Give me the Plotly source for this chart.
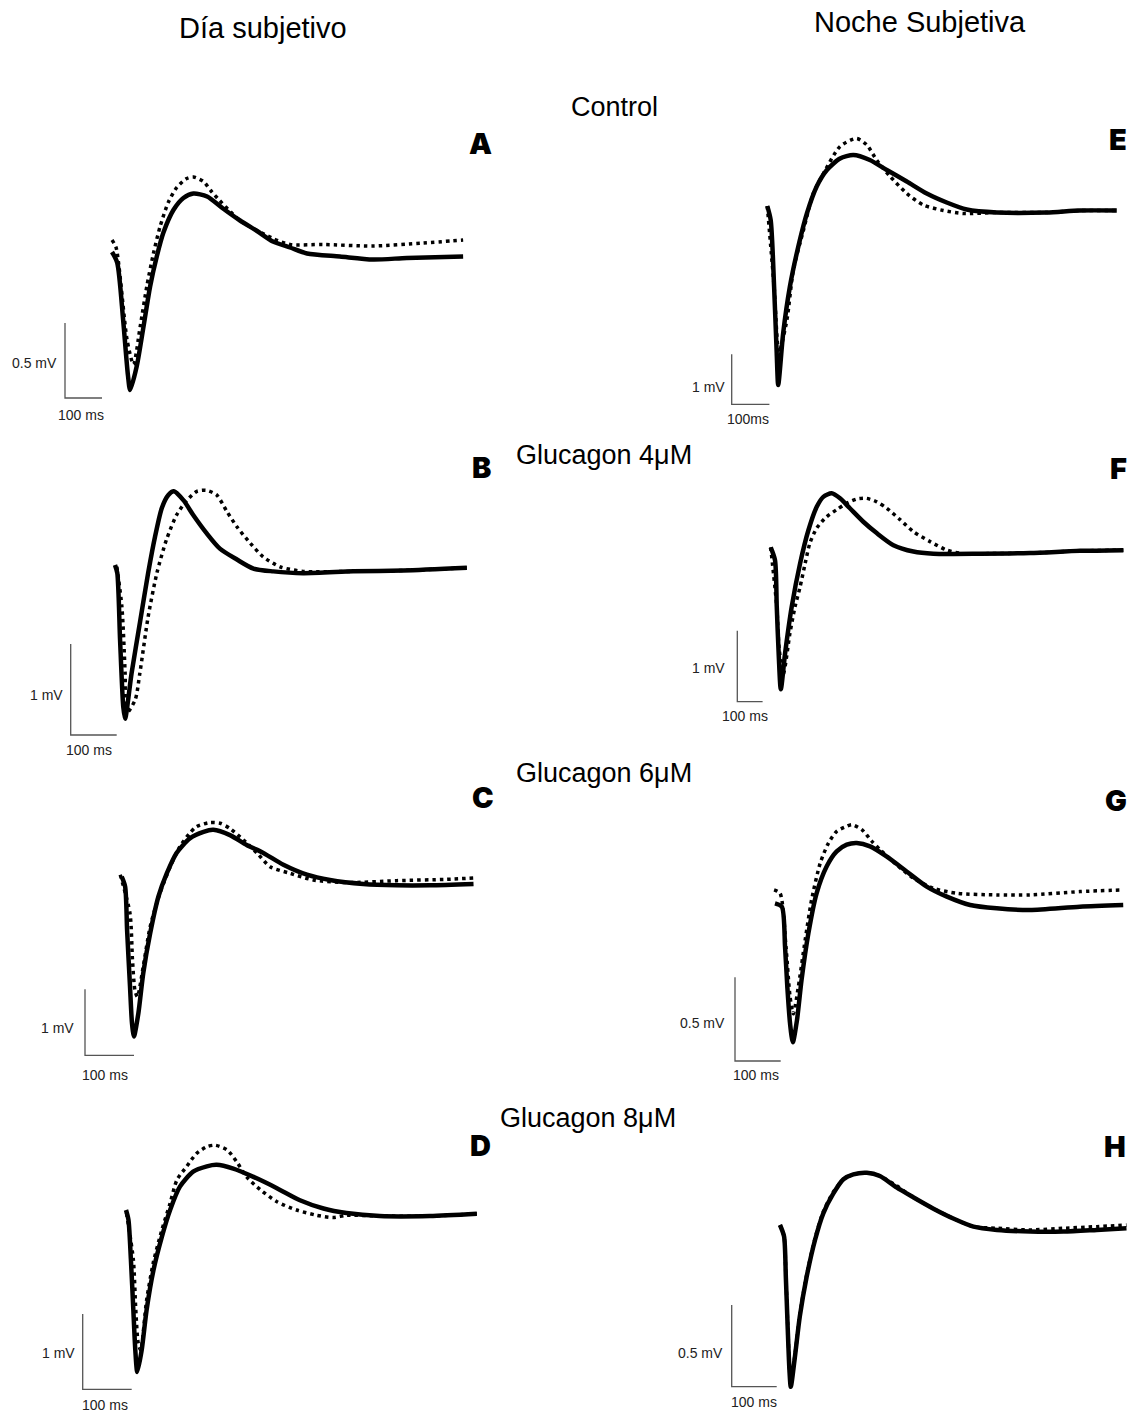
import plotly.graph_objects as go

W, H = 1133, 1414

# ---------------- DATA (time in ms, voltage in mV) ----------------
PANELS = ["A", "B", "C", "D", "E", "F", "G", "H"]
COLUMN_TITLES = ["Día subjetivo", "Noche Subjetiva"]
CONDITIONS = ["Control", "Glucagon 4μM", "Glucagon 6μM", "Glucagon 8μM"]
SCALE_MS = [100, 100, 100, 100, 100, 100, 100, 100]
SCALE_MV = [0.5, 1, 1, 1, 1, 1, 0.5, 0.5]
SCALE_MS_LABELS = ["100 ms", "100 ms", "100 ms", "100 ms", "100ms", "100 ms", "100 ms", "100 ms"]
SCALE_MV_LABELS = ["0.5 mV", "1 mV", "1 mV", "1 mV", "1 mV", "1 mV", "0.5 mV", "0.5 mV"]

# Panel A (Día, Control)
A_solid_t = [0, 14, 30, 43, 49, 67, 85, 103, 121, 139, 166, 193, 220, 257, 300, 346, 392, 435, 481, 527, 616, 705, 797, 949]
A_solid_v = [0, -0.07, -0.45, -0.82, -0.92, -0.76, -0.50, -0.23, -0.03, 0.13, 0.28, 0.36, 0.39, 0.37, 0.29, 0.21, 0.14, 0.07, 0.03, -0.01, -0.03, -0.05, -0.04, -0.03]
A_dot_t = [0, 11, 41, 58, 76, 94, 112, 130, 152, 175, 202, 220, 247, 270, 346, 435, 481, 570, 705, 841, 949]
A_dot_v = [0.08, 0.03, -0.59, -0.75, -0.50, -0.23, -0.01, 0.17, 0.33, 0.43, 0.49, 0.50, 0.47, 0.40, 0.21, 0.09, 0.05, 0.05, 0.04, 0.06, 0.08]

# Panel B (Día, Glucagon 4uM)
B_solid_t = [0, 5, 11, 18, 22, 36, 54, 72, 87, 102, 116, 128, 149, 170, 199, 228, 265, 301, 344, 409, 518, 627, 765]
B_solid_v = [0, -0.09, -0.82, -1.56, -1.69, -1.19, -0.64, -0.09, 0.31, 0.63, 0.77, 0.81, 0.71, 0.55, 0.35, 0.18, 0.06, -0.04, -0.07, -0.09, -0.07, -0.06, -0.03]
B_dot_t = [4, 15, 22, 25, 44, 54, 72, 91, 112, 134, 156, 178, 199, 221, 243, 265, 294, 322, 359, 409, 518, 627, 765]
B_dot_v = [-0.02, -0.46, -1.19, -1.63, -1.48, -1.19, -0.57, -0.09, 0.28, 0.55, 0.71, 0.81, 0.82, 0.77, 0.59, 0.42, 0.24, 0.09, -0.02, -0.07, -0.07, -0.06, -0.03]

# Panel C (Día, Glucagon 6uM)
C_solid_t = [0, 7, 11, 17, 21, 25, 34, 44, 58, 75, 92, 112, 139, 167, 187, 221, 255, 289, 330, 378, 425, 493, 561, 629, 718]
C_solid_v = [0, -0.15, -0.81, -1.67, -2.22, -2.42, -2.07, -1.46, -0.86, -0.30, 0.05, 0.36, 0.58, 0.68, 0.71, 0.63, 0.48, 0.36, 0.18, 0.03, -0.05, -0.11, -0.13, -0.13, -0.11]
C_dot_t = [-3, 17, 22, 27, 32, 44, 58, 78, 99, 119, 139, 153, 180, 201, 221, 248, 276, 303, 344, 391, 459, 561, 663, 718]
C_dot_v = [0.03, -0.56, -1.26, -1.72, -1.82, -1.36, -0.76, -0.25, 0.15, 0.46, 0.66, 0.76, 0.82, 0.81, 0.73, 0.56, 0.36, 0.15, 0.05, -0.05, -0.09, -0.06, -0.04, -0.02]

# Panel D (Día, Glucagon 8uM)
D_solid_t = [0, 5, 10, 15, 19, 23, 32, 42, 56, 73, 90, 110, 137, 165, 185, 219, 260, 308, 355, 403, 450, 518, 620, 716]
D_solid_v = [0, -0.13, -0.66, -1.33, -1.86, -2.15, -1.86, -1.33, -0.80, -0.36, 0.00, 0.31, 0.51, 0.58, 0.60, 0.55, 0.44, 0.29, 0.13, 0.02, -0.04, -0.08, -0.08, -0.05]
D_dot_t = [1, 15, 20, 25, 30, 42, 56, 73, 90, 104, 124, 144, 165, 182, 206, 226, 246, 274, 308, 348, 389, 423, 450, 518, 620, 716]
D_dot_v = [-0.04, -0.66, -1.33, -1.77, -1.86, -1.20, -0.69, -0.27, 0.09, 0.40, 0.58, 0.75, 0.84, 0.86, 0.80, 0.64, 0.44, 0.27, 0.11, 0.00, -0.07, -0.10, -0.07, -0.08, -0.08, -0.05]

# Panel E (Noche, Control)
E_solid_t = [0, 9, 18, 25, 29, 42, 60, 78, 105, 131, 158, 193, 228, 272, 317, 370, 423, 476, 529, 609, 741, 829, 927]
E_solid_v = [0, -0.28, -1.61, -2.95, -3.58, -2.55, -1.61, -0.95, -0.15, 0.39, 0.72, 0.95, 1.02, 0.92, 0.72, 0.49, 0.25, 0.07, -0.07, -0.13, -0.13, -0.09, -0.09]
E_dot_t = [0, 18, 31, 52, 69, 96, 122, 149, 193, 237, 264, 290, 326, 370, 414, 467, 520, 609, 741, 829, 927]
E_dot_v = [0, -1.61, -2.92, -2.28, -1.28, -0.48, 0.25, 0.65, 1.19, 1.35, 1.22, 0.92, 0.59, 0.25, 0.02, -0.09, -0.15, -0.13, -0.13, -0.09, -0.09]

# Panel F (Noche, Glucagon 4uM)
F_solid_t = [0, 17, 24, 32, 40, 57, 83, 116, 149, 182, 208, 241, 274, 313, 366, 419, 485, 564, 643, 827, 1025, 1223, 1394]
F_solid_v = [0, -0.18, -0.84, -1.54, -2.00, -1.49, -0.84, -0.23, 0.24, 0.57, 0.71, 0.76, 0.69, 0.55, 0.36, 0.20, 0.03, -0.06, -0.09, -0.09, -0.08, -0.05, -0.04]
F_dot_t = [0, 24, 34, 50, 76, 96, 116, 136, 155, 182, 221, 261, 300, 340, 379, 419, 459, 511, 564, 630, 696, 761, 827, 1025, 1223, 1394]
F_dot_v = [0, -0.84, -1.45, -1.78, -1.21, -0.84, -0.56, -0.23, 0.06, 0.27, 0.43, 0.53, 0.62, 0.68, 0.69, 0.64, 0.55, 0.39, 0.22, 0.08, -0.04, -0.09, -0.09, -0.08, -0.05, -0.04]

# Panel G (Noche, Glucagon 6uM)
G_solid_t = [0, 15, 22, 27, 33, 39, 48, 58, 73, 91, 113, 135, 157, 179, 208, 244, 288, 332, 376, 427, 485, 558, 667, 762]
G_solid_v = [0, -0.02, -0.26, -0.50, -0.72, -0.83, -0.70, -0.46, -0.18, 0.06, 0.22, 0.31, 0.35, 0.36, 0.34, 0.28, 0.19, 0.10, 0.04, -0.01, -0.03, -0.04, -0.02, -0.01]
G_dot_t = [-2, 11, 24, 33, 40, 51, 66, 80, 99, 117, 135, 157, 168, 190, 212, 230, 266, 303, 346, 398, 485, 558, 667, 762]
G_dot_v = [0.08, 0.06, -0.26, -0.56, -0.66, -0.50, -0.22, 0.02, 0.24, 0.36, 0.43, 0.46, 0.47, 0.44, 0.37, 0.32, 0.23, 0.15, 0.09, 0.06, 0.05, 0.05, 0.07, 0.08]

# Panel H (Noche, Glucagon 8uM)
H_solid_t = [0, 9, 13, 17, 21, 24, 33, 44, 59, 78, 96, 118, 141, 163, 193, 222, 259, 296, 341, 385, 430, 482, 556, 630, 704, 770]
H_solid_v = [0, -0.07, -0.32, -0.62, -0.89, -0.99, -0.81, -0.56, -0.32, -0.09, 0.07, 0.19, 0.28, 0.31, 0.32, 0.30, 0.23, 0.17, 0.10, 0.04, -0.01, -0.03, -0.04, -0.04, -0.03, -0.02]
H_dot_t = [0, 9, 13, 17, 21, 24, 33, 44, 59, 78, 96, 118, 141, 163, 193, 222, 259, 296, 341, 385, 430, 482, 556, 630, 704, 770]
H_dot_v = [0, -0.07, -0.31, -0.60, -0.86, -0.96, -0.80, -0.55, -0.31, -0.08, 0.08, 0.20, 0.28, 0.31, 0.32, 0.30, 0.24, 0.17, 0.10, 0.04, -0.01, -0.02, -0.03, -0.02, -0.01, 0.00]

SERIES = {
    "A": (A_solid_t, A_solid_v, A_dot_t, A_dot_v),
    "B": (B_solid_t, B_solid_v, B_dot_t, B_dot_v),
    "C": (C_solid_t, C_solid_v, C_dot_t, C_dot_v),
    "D": (D_solid_t, D_solid_v, D_dot_t, D_dot_v),
    "E": (E_solid_t, E_solid_v, E_dot_t, E_dot_v),
    "F": (F_solid_t, F_solid_v, F_dot_t, F_dot_v),
    "G": (G_solid_t, G_solid_v, G_dot_t, G_dot_v),
    "H": (H_solid_t, H_solid_v, H_dot_t, H_dot_v),
}

# ---------------- LAYOUT GEOMETRY (pixels) ----------------
# origin: pixel of (t=0, v=0); kx: px per ms; ky: px per mV
GEOM = {
    "A": dict(origin=(112, 252), kx=0.37, ky=150, bar=(65, 398), mv_lab=(34.5, 363), ms_lab=(80.7, 415), letter=(480, 143)),
    "B": dict(origin=(115, 565), kx=0.46, ky=91, bar=(70.7, 735), mv_lab=(46.5, 695), ms_lab=(89, 750), letter=(481.5, 467.5)),
    "C": dict(origin=(121.7, 876.7), kx=0.49, ky=66, bar=(85, 1055.3), mv_lab=(57.5, 1028), ms_lab=(104.5, 1075), letter=(483, 797)),
    "D": dict(origin=(126, 1210), kx=0.49, ky=75.3, bar=(82.7, 1389.3), mv_lab=(58, 1353), ms_lab=(104.5, 1405), letter=(480, 1145)),
    "E": dict(origin=(767.3, 206), kx=0.377, ky=50, bar=(731.7, 404.3), mv_lab=(708, 386.7), ms_lab=(748, 419), letter=(1117.5, 140)),
    "F": dict(origin=(770.7, 547.3), kx=0.253, ky=71, bar=(737.3, 701.7), mv_lab=(708, 668), ms_lab=(745, 716), letter=(1118, 468)),
    "G": dict(origin=(775, 903.3), kx=0.457, ky=167.4, bar=(735, 1061), mv_lab=(702, 1022.7), ms_lab=(755.5, 1075), letter=(1115.5, 800)),
    "H": dict(origin=(780, 1225), kx=0.45, ky=163.4, bar=(731.7, 1386.7), mv_lab=(700, 1353), ms_lab=(753.5, 1401.7), letter=(1115, 1146)),
}
TITLE_POS = [(262.5, 28), (919.5, 22)]
COND_POS = [(614, 107), (604, 455), (604, 773), (588, 1118)]

TEXT_FONT = "Liberation Sans, Arial, sans-serif"

fig = go.Figure()
annotations = []


def px2paper(x, y):
    return x / W, 1 - y / H


for i, p in enumerate(PANELS):
    g = GEOM[p]
    ox, oy = g["origin"]
    kx, ky = g["kx"], g["ky"]
    xa = "x" if i == 0 else f"x{i+1}"
    ya = "y" if i == 0 else f"y{i+1}"
    st, sv, dt, dv = SERIES[p]

    fig.add_trace(go.Scatter(x=st, y=sv, mode="lines", xaxis=xa, yaxis=ya,
                             line=dict(color="black", width=4.5, shape="spline", smoothing=0.7),
                             showlegend=False, hoverinfo="skip"))
    fig.add_trace(go.Scatter(x=dt, y=dv, mode="lines", xaxis=xa, yaxis=ya,
                             line=dict(color="black", width=3.5, dash="3.5px,4px", shape="spline", smoothing=0.7),
                             showlegend=False, hoverinfo="skip"))

    # scale bar (corner position from layout, lengths from data)
    bx, by = g["bar"]
    t0 = (bx - ox) / kx
    v0 = (oy - by) / ky
    fig.add_trace(go.Scatter(x=[t0, t0, t0 + SCALE_MS[i]], y=[v0 + SCALE_MV[i], v0, v0],
                             mode="lines", xaxis=xa, yaxis=ya,
                             line=dict(color="#555555", width=1.3),
                             showlegend=False, hoverinfo="skip"))

    axkey = "xaxis" if i == 0 else f"xaxis{i+1}"
    aykey = "yaxis" if i == 0 else f"yaxis{i+1}"
    fig.update_layout(**{
        axkey: dict(domain=[0, 1], range=[(0 - ox) / kx, (W - ox) / kx], visible=False,
                    anchor=ya, fixedrange=True),
        aykey: dict(domain=[0, 1], range=[(oy - H) / ky, oy / ky], visible=False,
                    anchor=xa, fixedrange=True),
    })

    for txt, pos in ((SCALE_MV_LABELS[i], g["mv_lab"]), (SCALE_MS_LABELS[i], g["ms_lab"])):
        xx, yy = px2paper(*pos)
        annotations.append(dict(x=xx, y=yy, xref="paper", yref="paper", text=txt, showarrow=False,
                                xanchor="center", yanchor="middle",
                                font=dict(family=TEXT_FONT, size=14, color="#222222")))
    xx, yy = px2paper(*g["letter"])
    annotations.append(dict(x=xx, y=yy, xref="paper", yref="paper", text=p, showarrow=False,
                            xanchor="center", yanchor="middle",
                            font=dict(family="Inter, Roboto, DejaVu Sans, sans-serif", size=29,
                                      color="black", weight=900)))

for txt, pos in zip(COLUMN_TITLES, TITLE_POS):
    xx, yy = px2paper(*pos)
    annotations.append(dict(x=xx, y=yy, xref="paper", yref="paper", text=txt, showarrow=False,
                            xanchor="center", yanchor="middle",
                            font=dict(family=TEXT_FONT, size=29, color="black")))
for txt, pos in zip(CONDITIONS, COND_POS):
    xx, yy = px2paper(*pos)
    annotations.append(dict(x=xx, y=yy, xref="paper", yref="paper", text=txt, showarrow=False,
                            xanchor="center", yanchor="middle",
                            font=dict(family=TEXT_FONT, size=27, color="black")))

fig.update_layout(width=W, height=H, margin=dict(l=0, r=0, t=0, b=0),
                  paper_bgcolor="white", plot_bgcolor="rgba(0,0,0,0)",
                  annotations=annotations, showlegend=False)

# remove the default page margin so the figure sits at the window's top-left corner
fig.write_html("out.html",
               config={"displayModeBar": False},
               post_script="document.body.style.margin='0';document.body.style.overflow='hidden';")
